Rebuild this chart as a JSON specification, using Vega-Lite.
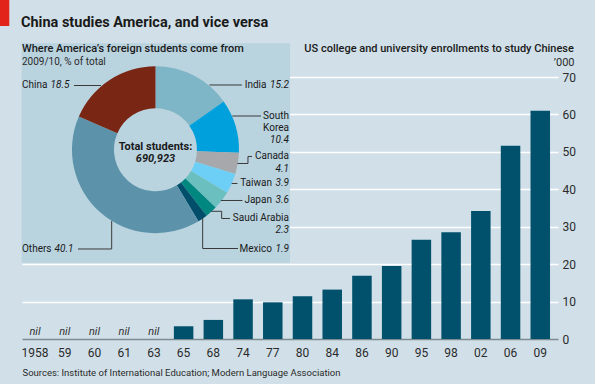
{
  "$schema": "https://vega.github.io/schema/vega-lite/v6.json",
  "width": 536,
  "height": 262,
  "autosize": "none",
  "padding": {"left": 22, "top": 77, "right": 37, "bottom": 45},
  "background": "#d1e0e8",
  "config": {"view": {"stroke": null}, "font": "Roboto"},
  "resolve": {"axis": {"x": "independent", "y": "independent"}},
  "datasets": {
    "enrol": [
      {"year": 1958, "value": null},
      {"year": 1959, "value": null},
      {"year": 1960, "value": null},
      {"year": 1961, "value": null},
      {"year": 1963, "value": null},
      {"year": 1965, "value": 3.4},
      {"year": 1968, "value": 5.1},
      {"year": 1974, "value": 10.6},
      {"year": 1977, "value": 9.8},
      {"year": 1980, "value": 11.4},
      {"year": 1984, "value": 13.2},
      {"year": 1986, "value": 16.9},
      {"year": 1990, "value": 19.5},
      {"year": 1995, "value": 26.5},
      {"year": 1998, "value": 28.5},
      {"year": 2002, "value": 34.2},
      {"year": 2006, "value": 51.6},
      {"year": 2009, "value": 61.0}
    ],
    "origin": [
      {"country": "India", "share": 15.2},
      {"country": "South Korea", "share": 10.4},
      {"country": "Canada", "share": 4.1},
      {"country": "Taiwan", "share": 3.9},
      {"country": "Japan", "share": 3.6},
      {"country": "Saudi Arabia", "share": 2.3},
      {"country": "Mexico", "share": 1.9},
      {"country": "Others", "share": 40.1},
      {"country": "China", "share": 18.5}
    ],
    "note": [{}]
  },
  "layer": [
    {
      "data": {"name": "enrol"},
      "mark": {"type": "bar", "color": "#01506c"},
      "encoding": {
        "x": {
          "field": "year", "type": "ordinal",
          "scale": {"domain": [1958, 1959, 1960, 1961, 1963, 1965, 1968, 1974, 1977, 1980, 1984, 1986, 1990, 1995, 1998, 2002, 2006, 2009], "paddingInner": 0.344, "paddingOuter": 0.189, "align": 0.29},
          "axis": {
            "orient": "bottom", "labelAngle": 0, "ticks": false, "grid": false,
            "domain": true, "domainColor": "#7d8a91", "domainWidth": 1.5,
            "labelExpr": "datum.label == '1958' ? '1958' : slice(datum.label, 2)",
            "labelFont": "Roboto", "labelFontSize": 12, "labelColor": "#2b2b2b", "labelPadding": 8,
            "title": "Sources: Institute of International Education; Modern Language Association",
            "titleFont": "Roboto", "titleFontSize": 9.5, "titleFontWeight": "normal", "titleColor": "#2b2b2b",
            "titleAnchor": "start", "titleAlign": "left", "titleBaseline": "alphabetic", "titleX": 0, "titleY": 36
          }
        },
        "y": {
          "field": "value", "type": "quantitative",
          "scale": {"domain": [0, 70], "nice": false},
          "axis": {
            "orient": "right", "values": [0, 10, 20, 30, 40, 50, 60, 70], "labelOverlap": false,
            "grid": true, "gridColor": "#ffffff", "gridWidth": 1.4,
            "gridOpacity": {"condition": {"test": "datum.value == 0", "value": 0}, "value": 1},
            "ticks": false, "domain": false, "labelPadding": 4, "labelFont": "Roboto", "labelFontSize": 12, "labelColor": "#2b2b2b",
            "title": "’000", "titleAngle": 0, "titleAlign": "right", "titleBaseline": "alphabetic",
            "titleX": 16, "titleY": -12, "titleFont": "Roboto", "titleFontSize": 11, "titleFontWeight": "normal", "titleColor": "#2b2b2b"
          }
        }
      }
    },
    {
      "data": {"name": "enrol"},
      "transform": [{"filter": "datum.value == null"}],
      "mark": {"type": "text", "fontStyle": "italic", "fontSize": 11, "color": "#333333", "baseline": "alphabetic", "dy": -4},
      "encoding": {
        "x": {"field": "year", "type": "ordinal", "axis": null},
        "y": {"datum": 0, "type": "quantitative", "axis": null},
        "text": {"value": "nil"}
      }
    },
    {
      "data": {"name": "note"},
      "mark": {"type": "rect", "color": "#e2231a"},
      "encoding": {
        "x": {"datum": 1958, "type": "ordinal", "bandPosition": -1.2959, "axis": null},
        "x2": {"datum": 1958, "bandPosition": -0.819},
        "y": {"datum": 90.573, "type": "quantitative", "axis": null},
        "y2": {"datum": 83.626}
      }
    },
    {
      "data": {"name": "note"},
      "mark": {"type": "text", "align": "left", "baseline": "alphabetic", "fontWeight": "bold", "fontSize": 14.5, "color": "#1a1a1a"},
      "encoding": {
        "x": {"datum": 1958, "type": "ordinal", "bandPosition": -0.219, "axis": null},
        "y": {"datum": 83.279, "type": "quantitative", "axis": null},
        "text": {"value": "China studies America, and vice versa"}
      }
    },
    {
      "data": {"name": "note"},
      "mark": {"type": "rect", "color": "#b9d3df"},
      "encoding": {
        "x": {"datum": 1958, "type": "ordinal", "bandPosition": -0.1831, "axis": null},
        "x2": {"datum": 1958, "bandPosition": 13.5759},
        "y": {"datum": 79.004, "type": "quantitative", "axis": null},
        "y2": {"datum": 20.385}
      }
    },
    {
      "data": {"name": "note"},
      "mark": {"type": "text", "align": "left", "baseline": "alphabetic", "fontWeight": 500, "fontSize": 11, "color": "#1a1a1a"},
      "encoding": {
        "x": {"datum": 1958, "type": "ordinal", "bandPosition": -0.1677, "axis": null},
        "y": {"datum": 76.76, "type": "quantitative", "axis": null},
        "text": {"value": "Where America’s foreign students come from"}
      }
    },
    {
      "data": {"name": "note"},
      "mark": {"type": "text", "align": "left", "baseline": "alphabetic", "fontSize": 10, "color": "#2b2b2b"},
      "encoding": {
        "x": {"datum": 1958, "type": "ordinal", "bandPosition": -0.1677, "axis": null},
        "y": {"datum": 73.206, "type": "quantitative", "axis": null},
        "text": {"value": "2009/10, % of total"}
      }
    },
    {
      "data": {"name": "note"},
      "mark": {"type": "text", "align": "right", "baseline": "alphabetic", "fontWeight": 500, "fontSize": 11, "color": "#1a1a1a"},
      "encoding": {
        "x": {"datum": 1958, "type": "ordinal", "bandPosition": 28.14, "axis": null},
        "y": {"datum": 76.76, "type": "quantitative", "axis": null},
        "text": {"value": "US college and university enrollments to study Chinese"}
      }
    },
    {
      "data": {"name": "origin"},
      "transform": [{"window": [{"op": "row_number", "as": "rank"}]}],
      "mark": {"type": "arc", "innerRadius": 41.5, "outerRadius": 83.5},
      "encoding": {
        "theta": {"field": "share", "type": "quantitative", "stack": true},
        "order": {"field": "rank", "type": "quantitative"},
        "color": {
          "field": "country", "type": "nominal", "legend": null,
          "scale": {
            "domain": ["India", "South Korea", "Canada", "Taiwan", "Japan", "Saudi Arabia", "Mexico", "Others", "China"],
            "range": ["#7fb6c7", "#00a0dc", "#a6a8ab", "#6dcff5", "#6bbfbf", "#00877f", "#004e6a", "#5c93ab", "#7a2614"]
          }
        },
        "x": {"datum": 1958, "type": "ordinal", "bandPosition": 6.6785, "axis": null},
        "y": {"datum": 50.576, "type": "quantitative", "axis": null}
      }
    },
    {
      "data": {"name": "note"},
      "mark": {"type": "text", "align": "center", "baseline": "middle", "fontWeight": "bold", "fontSize": 11, "color": "#1a1a1a"},
      "encoding": {
        "x": {"datum": 1958, "type": "ordinal", "bandPosition": 6.6785, "axis": null},
        "y": {"datum": 51.431, "type": "quantitative", "axis": null},
        "text": {"value": "Total students:"}
      }
    },
    {
      "data": {"name": "note"},
      "mark": {"type": "text", "align": "center", "baseline": "middle", "fontWeight": "bold", "fontStyle": "italic", "fontSize": 11, "color": "#1a1a1a"},
      "encoding": {
        "x": {"datum": 1958, "type": "ordinal", "bandPosition": 6.6785, "axis": null},
        "y": {"datum": 48.172, "type": "quantitative", "axis": null},
        "text": {"value": "690,923"}
      }
    },
    {
      "data": {"name": "origin"},
      "transform": [{"filter": "datum.country == 'China'"}],
      "mark": {"type": "text", "align": "left", "baseline": "middle", "fontSize": 10, "color": "#1a1a1a"},
      "encoding": {"x": {"datum": 1958, "type": "ordinal", "bandPosition": -0.1677, "axis": null}, "y": {"datum": 67.863, "type": "quantitative", "axis": null}, "text": {"field": "country", "type": "nominal"}}
    },
    {
      "data": {"name": "origin"},
      "transform": [{"filter": "datum.country == 'China'"}],
      "mark": {"type": "text", "align": "left", "baseline": "middle", "fontStyle": "italic", "fontSize": 10, "color": "#1a1a1a", "dx": 28.5},
      "encoding": {"x": {"datum": 1958, "type": "ordinal", "bandPosition": -0.1677, "axis": null}, "y": {"datum": 67.863, "type": "quantitative", "axis": null}, "text": {"field": "share", "type": "quantitative", "format": ".1f"}}
    },
    {
      "data": {"name": "origin"},
      "transform": [{"filter": "datum.country == 'Others'"}],
      "mark": {"type": "text", "align": "left", "baseline": "middle", "fontSize": 10, "color": "#1a1a1a"},
      "encoding": {"x": {"datum": 1958, "type": "ordinal", "bandPosition": -0.1677, "axis": null}, "y": {"datum": 24.046, "type": "quantitative", "axis": null}, "text": {"field": "country", "type": "nominal"}}
    },
    {
      "data": {"name": "origin"},
      "transform": [{"filter": "datum.country == 'Others'"}],
      "mark": {"type": "text", "align": "left", "baseline": "middle", "fontStyle": "italic", "fontSize": 10, "color": "#1a1a1a", "dx": 32.5},
      "encoding": {"x": {"datum": 1958, "type": "ordinal", "bandPosition": -0.1677, "axis": null}, "y": {"datum": 24.046, "type": "quantitative", "axis": null}, "text": {"field": "share", "type": "quantitative", "format": ".1f"}}
    },
    {
      "data": {"name": "origin"},
      "transform": [{"filter": "datum.country == 'India'"}],
      "mark": {"type": "text", "align": "right", "baseline": "middle", "fontSize": 10, "color": "#1a1a1a", "dx": -22.5},
      "encoding": {"x": {"datum": 1958, "type": "ordinal", "bandPosition": 13.5246, "axis": null}, "y": {"datum": 67.863, "type": "quantitative", "axis": null}, "text": {"field": "country", "type": "nominal"}}
    },
    {
      "data": {"name": "origin"},
      "transform": [{"filter": "datum.country == 'India'"}],
      "mark": {"type": "text", "align": "right", "baseline": "middle", "fontStyle": "italic", "fontSize": 10, "color": "#1a1a1a"},
      "encoding": {"x": {"datum": 1958, "type": "ordinal", "bandPosition": 13.5246, "axis": null}, "y": {"datum": 67.863, "type": "quantitative", "axis": null}, "text": {"field": "share", "type": "quantitative", "format": ".1f"}}
    },
    {
      "data": {"name": "origin"},
      "transform": [{"filter": "datum.country == 'South Korea'"}],
      "mark": {"type": "text", "align": "right", "baseline": "middle", "fontSize": 10, "color": "#1a1a1a", "lineBreak": " ", "lineHeight": 12},
      "encoding": {"x": {"datum": 1958, "type": "ordinal", "bandPosition": 13.5246, "axis": null}, "y": {"datum": 59.58, "type": "quantitative", "axis": null}, "text": {"field": "country", "type": "nominal"}}
    },
    {
      "data": {"name": "origin"},
      "transform": [{"filter": "datum.country == 'South Korea'"}],
      "mark": {"type": "text", "align": "right", "baseline": "middle", "fontStyle": "italic", "fontSize": 10, "color": "#1a1a1a"},
      "encoding": {"x": {"datum": 1958, "type": "ordinal", "bandPosition": 13.5246, "axis": null}, "y": {"datum": 53.168, "type": "quantitative", "axis": null}, "text": {"field": "share", "type": "quantitative", "format": ".1f"}}
    },
    {
      "data": {"name": "origin"},
      "transform": [{"filter": "datum.country == 'Canada'"}],
      "mark": {"type": "text", "align": "right", "baseline": "middle", "fontSize": 10, "color": "#1a1a1a"},
      "encoding": {"x": {"datum": 1958, "type": "ordinal", "bandPosition": 13.5246, "axis": null}, "y": {"datum": 48.76, "type": "quantitative", "axis": null}, "text": {"field": "country", "type": "nominal"}}
    },
    {
      "data": {"name": "origin"},
      "transform": [{"filter": "datum.country == 'Canada'"}],
      "mark": {"type": "text", "align": "right", "baseline": "middle", "fontStyle": "italic", "fontSize": 10, "color": "#1a1a1a"},
      "encoding": {"x": {"datum": 1958, "type": "ordinal", "bandPosition": 13.5246, "axis": null}, "y": {"datum": 45.553, "type": "quantitative", "axis": null}, "text": {"field": "share", "type": "quantitative", "format": ".1f"}}
    },
    {
      "data": {"name": "origin"},
      "transform": [{"filter": "datum.country == 'Taiwan'"}],
      "mark": {"type": "text", "align": "right", "baseline": "middle", "fontSize": 10, "color": "#1a1a1a", "dx": -17},
      "encoding": {"x": {"datum": 1958, "type": "ordinal", "bandPosition": 13.5246, "axis": null}, "y": {"datum": 41.546, "type": "quantitative", "axis": null}, "text": {"field": "country", "type": "nominal"}}
    },
    {
      "data": {"name": "origin"},
      "transform": [{"filter": "datum.country == 'Taiwan'"}],
      "mark": {"type": "text", "align": "right", "baseline": "middle", "fontStyle": "italic", "fontSize": 10, "color": "#1a1a1a"},
      "encoding": {"x": {"datum": 1958, "type": "ordinal", "bandPosition": 13.5246, "axis": null}, "y": {"datum": 41.546, "type": "quantitative", "axis": null}, "text": {"field": "share", "type": "quantitative", "format": ".1f"}}
    },
    {
      "data": {"name": "origin"},
      "transform": [{"filter": "datum.country == 'Japan'"}],
      "mark": {"type": "text", "align": "right", "baseline": "middle", "fontSize": 10, "color": "#1a1a1a", "dx": -17},
      "encoding": {"x": {"datum": 1958, "type": "ordinal", "bandPosition": 13.5246, "axis": null}, "y": {"datum": 37.004, "type": "quantitative", "axis": null}, "text": {"field": "country", "type": "nominal"}}
    },
    {
      "data": {"name": "origin"},
      "transform": [{"filter": "datum.country == 'Japan'"}],
      "mark": {"type": "text", "align": "right", "baseline": "middle", "fontStyle": "italic", "fontSize": 10, "color": "#1a1a1a"},
      "encoding": {"x": {"datum": 1958, "type": "ordinal", "bandPosition": 13.5246, "axis": null}, "y": {"datum": 37.004, "type": "quantitative", "axis": null}, "text": {"field": "share", "type": "quantitative", "format": ".1f"}}
    },
    {
      "data": {"name": "origin"},
      "transform": [{"filter": "datum.country == 'Saudi Arabia'"}],
      "mark": {"type": "text", "align": "right", "baseline": "middle", "fontSize": 10, "color": "#1a1a1a"},
      "encoding": {"x": {"datum": 1958, "type": "ordinal", "bandPosition": 13.5246, "axis": null}, "y": {"datum": 32.195, "type": "quantitative", "axis": null}, "text": {"field": "country", "type": "nominal"}}
    },
    {
      "data": {"name": "origin"},
      "transform": [{"filter": "datum.country == 'Saudi Arabia'"}],
      "mark": {"type": "text", "align": "right", "baseline": "middle", "fontStyle": "italic", "fontSize": 10, "color": "#1a1a1a"},
      "encoding": {"x": {"datum": 1958, "type": "ordinal", "bandPosition": 13.5246, "axis": null}, "y": {"datum": 28.989, "type": "quantitative", "axis": null}, "text": {"field": "share", "type": "quantitative", "format": ".1f"}}
    },
    {
      "data": {"name": "origin"},
      "transform": [{"filter": "datum.country == 'Mexico'"}],
      "mark": {"type": "text", "align": "right", "baseline": "middle", "fontSize": 10, "color": "#1a1a1a", "dx": -17},
      "encoding": {"x": {"datum": 1958, "type": "ordinal", "bandPosition": 13.5246, "axis": null}, "y": {"datum": 24.179, "type": "quantitative", "axis": null}, "text": {"field": "country", "type": "nominal"}}
    },
    {
      "data": {"name": "origin"},
      "transform": [{"filter": "datum.country == 'Mexico'"}],
      "mark": {"type": "text", "align": "right", "baseline": "middle", "fontStyle": "italic", "fontSize": 10, "color": "#1a1a1a"},
      "encoding": {"x": {"datum": 1958, "type": "ordinal", "bandPosition": 13.5246, "axis": null}, "y": {"datum": 24.179, "type": "quantitative", "axis": null}, "text": {"field": "share", "type": "quantitative", "format": ".1f"}}
    },
    {"data": {"name": "note"}, "mark": {"type": "rule", "color": "#3a3a3a", "strokeWidth": 1},
     "encoding": {"x": {"datum": 1958, "type": "ordinal", "bandPosition": 2.499, "axis": null}, "x2": {"datum": 1958, "bandPosition": 3.8836}, "y": {"datum": 67.729, "type": "quantitative", "axis": null}}},
    {"data": {"name": "note"}, "mark": {"type": "rule", "color": "#3a3a3a", "strokeWidth": 1},
     "encoding": {"x": {"datum": 1958, "type": "ordinal", "bandPosition": 9.4477, "axis": null}, "x2": {"datum": 1958, "bandPosition": 11.1144}, "y": {"datum": 67.863, "type": "quantitative", "axis": null}}},
    {"data": {"name": "note"}, "mark": {"type": "rule", "color": "#3a3a3a", "strokeWidth": 1},
     "encoding": {"x": {"datum": 1958, "type": "ordinal", "bandPosition": 10.6169, "axis": null}, "x2": {"datum": 1958, "bandPosition": 12.0887}, "y": {"datum": 59.58, "type": "quantitative", "axis": null}}},
    {"data": {"name": "note"}, "mark": {"type": "rule", "color": "#3a3a3a", "strokeWidth": 1},
     "encoding": {"x": {"datum": 1958, "type": "ordinal", "bandPosition": 10.8836, "axis": null}, "x2": {"datum": 1958, "bandPosition": 11.4221}, "y": {"datum": 46.893, "type": "quantitative", "axis": null}}},
    {"data": {"name": "note"}, "mark": {"type": "rule", "color": "#3a3a3a", "strokeWidth": 1},
     "encoding": {"x": {"datum": 1958, "type": "ordinal", "bandPosition": 11.4221, "axis": null}, "y": {"datum": 46.893, "type": "quantitative", "axis": null}, "y2": {"datum": 48.76}}},
    {"data": {"name": "note"}, "mark": {"type": "rule", "color": "#3a3a3a", "strokeWidth": 1},
     "encoding": {"x": {"datum": 1958, "type": "ordinal", "bandPosition": 11.4221, "axis": null}, "x2": {"datum": 1958, "bandPosition": 11.6272}, "y": {"datum": 48.76, "type": "quantitative", "axis": null}}},
    {"data": {"name": "note"}, "mark": {"type": "rule", "color": "#3a3a3a", "strokeWidth": 1},
     "encoding": {"x": {"datum": 1958, "type": "ordinal", "bandPosition": 10.5862, "axis": null}, "x2": {"datum": 1958, "bandPosition": 10.8836}, "y": {"datum": 41.546, "type": "quantitative", "axis": null}}},
    {"data": {"name": "note"}, "mark": {"type": "rule", "color": "#3a3a3a", "strokeWidth": 1},
     "encoding": {"x": {"datum": 1958, "type": "ordinal", "bandPosition": 10.0374, "axis": null}, "x2": {"datum": 1958, "bandPosition": 11.14}, "y": {"datum": 37.004, "type": "quantitative", "axis": null}}},
    {"data": {"name": "note"}, "mark": {"type": "rule", "color": "#3a3a3a", "strokeWidth": 1},
     "encoding": {"x": {"datum": 1958, "type": "ordinal", "bandPosition": 9.54, "axis": null}, "x2": {"datum": 1958, "bandPosition": 10.0733}, "y": {"datum": 34.118, "type": "quantitative", "axis": null}}},
    {"data": {"name": "note"}, "mark": {"type": "rule", "color": "#3a3a3a", "strokeWidth": 1},
     "encoding": {"x": {"datum": 1958, "type": "ordinal", "bandPosition": 10.0733, "axis": null}, "y": {"datum": 34.118, "type": "quantitative", "axis": null}, "y2": {"datum": 32.195}}},
    {"data": {"name": "note"}, "mark": {"type": "rule", "color": "#3a3a3a", "strokeWidth": 1},
     "encoding": {"x": {"datum": 1958, "type": "ordinal", "bandPosition": 10.0733, "axis": null}, "x2": {"datum": 1958, "bandPosition": 10.499}, "y": {"datum": 32.195, "type": "quantitative", "axis": null}}},
    {"data": {"name": "note"}, "mark": {"type": "rule", "color": "#3a3a3a", "strokeWidth": 1},
     "encoding": {"x": {"datum": 1958, "type": "ordinal", "bandPosition": 9.099, "axis": null}, "y": {"datum": 32.328, "type": "quantitative", "axis": null}, "y2": {"datum": 24.179}}},
    {"data": {"name": "note"}, "mark": {"type": "rule", "color": "#3a3a3a", "strokeWidth": 1},
     "encoding": {"x": {"datum": 1958, "type": "ordinal", "bandPosition": 9.099, "axis": null}, "x2": {"datum": 1958, "bandPosition": 10.909}, "y": {"datum": 24.179, "type": "quantitative", "axis": null}}},
    {"data": {"name": "note"}, "mark": {"type": "rule", "color": "#3a3a3a", "strokeWidth": 1},
     "encoding": {"x": {"datum": 1958, "type": "ordinal", "bandPosition": 4.4323, "axis": null}, "y": {"datum": 31.527, "type": "quantitative", "axis": null}, "y2": {"datum": 24.046}}},
    {"data": {"name": "note"}, "mark": {"type": "rule", "color": "#3a3a3a", "strokeWidth": 1},
     "encoding": {"x": {"datum": 1958, "type": "ordinal", "bandPosition": 2.704, "axis": null}, "x2": {"datum": 1958, "bandPosition": 4.4323}, "y": {"datum": 24.046, "type": "quantitative", "axis": null}}}
  ]
}
